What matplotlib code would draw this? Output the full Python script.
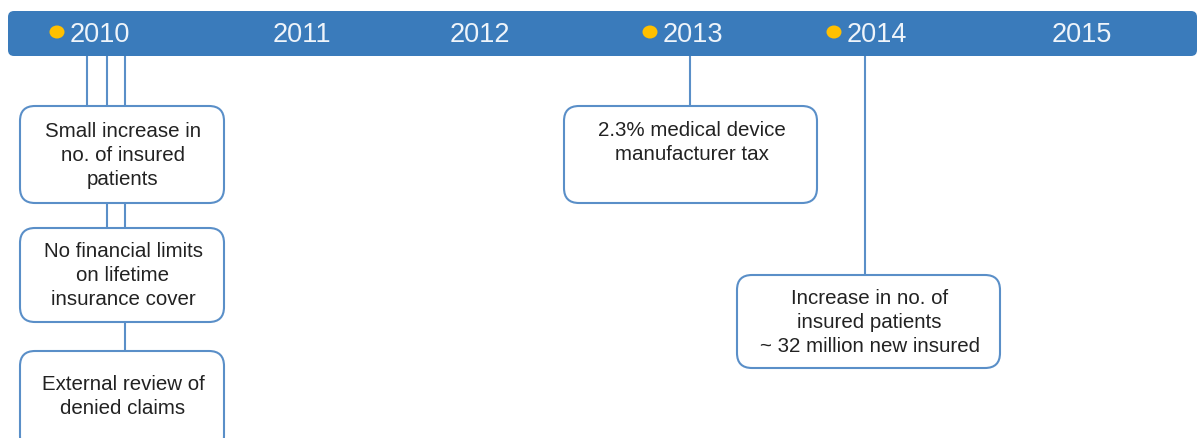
import matplotlib.pyplot as plt
from matplotlib.patches import FancyBboxPatch, Ellipse

plt.rcParams['font.family'] = ['Liberation Sans', 'DejaVu Sans']

years = ['2010', '2011', '2012', '2013', '2014', '2015']
marked_years = ['2010', '2013', '2014']
events = [
    ('2010', 'Small increase in\nno. of insured\npatients'),
    ('2010', 'No financial limits\non lifetime\ninsurance cover'),
    ('2010', 'External review of\ndenied claims'),
    ('2013', '2.3% medical device\nmanufacturer tax'),
    ('2014', 'Increase in no. of\ninsured patients\n~ 32 million new insured'),
]

# layout in pixel coordinates
year_x = [100, 302, 480, 693, 877, 1082]
box_xy = [(20, 107, 204, 97), (20, 229, 204, 94), (20, 352, 204, 100),
          (564, 107, 253, 97), (737, 276, 263, 93)]
text_top = [132, 252, 385, 131, 299]

bar_col = '#3A7BBB'
edge_col = '#5A8FC8'

fig = plt.figure(figsize=(11.99, 4.39), dpi=100)
ax = fig.add_axes([0, 0, 1, 1])
ax.set_xlim(0, 1199)
ax.set_ylim(439, 0)
ax.axis('off')

# connectors
for x, y0, y1 in [(87, 57, 107), (107, 57, 107), (125, 57, 107),
                  (107, 204, 229), (125, 204, 229), (125, 323, 352),
                  (690, 57, 107), (865, 57, 276)]:
    ax.plot([x, x], [y0, y1], color=edge_col, lw=1.5, zorder=1)

# timeline bar
ax.add_patch(FancyBboxPatch((8, 12), 1189, 45, boxstyle='round,pad=0,rounding_size=6',
                            fc=bar_col, ec='none', zorder=2))
for yr, x in zip(years, year_x):
    ax.text(x, 35, yr, color='#EEF4FA', fontsize=19.5, ha='center', va='center', zorder=3)
    if yr in marked_years:
        ax.add_patch(Ellipse((x - 43, 33), 15, 13, fc='#FFC000', ec='none', zorder=3))

# event boxes
for (yr, txt), (bx, by, bw, bh), ty in zip(events, box_xy, text_top):
    ax.add_patch(FancyBboxPatch((bx, by), bw, bh, boxstyle='round,pad=0,rounding_size=15',
                                fc='white', ec=edge_col, lw=1.5, zorder=2))
    for i, line in enumerate(txt.split('\n')):
        ax.text(bx + bw / 2 + 1, ty + i * 24, line, ha='center', va='center', fontsize=14.8,
                color='#222222', zorder=3)

fig.savefig('out.png', dpi=100)
